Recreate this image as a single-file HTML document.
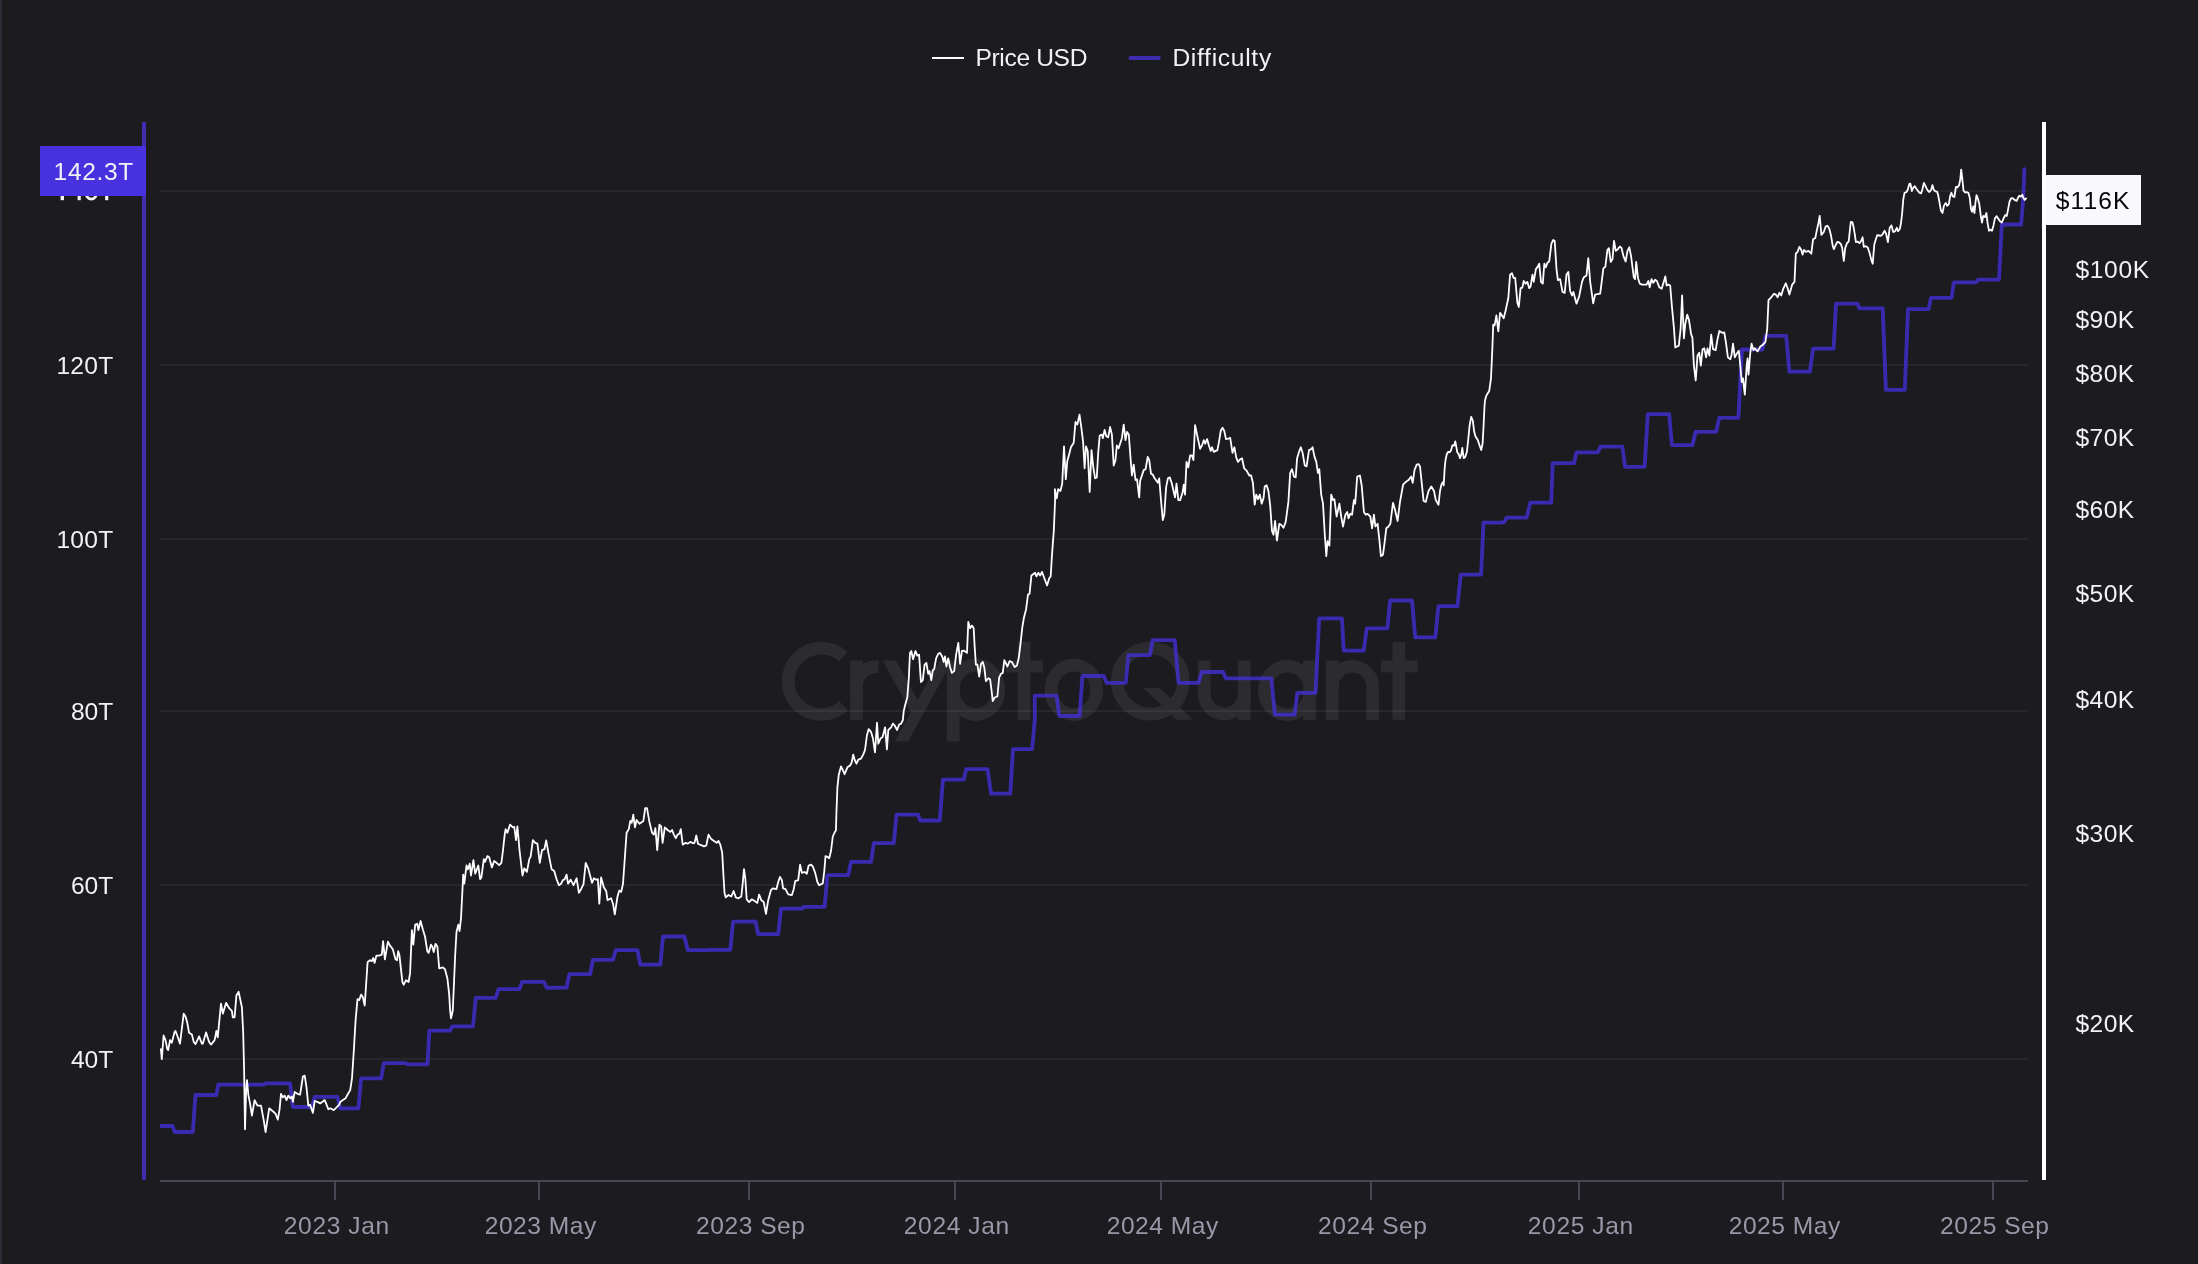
<!DOCTYPE html>
<html><head><meta charset="utf-8"><title>Price USD / Difficulty</title>
<style>
html,body{margin:0;padding:0;background:#1b1b20;}
body{width:2198px;height:1264px;position:relative;overflow:hidden;font-family:"Liberation Sans",sans-serif;}
text{font-family:"Liberation Sans",sans-serif;}
.yl{font-size:24.6px;fill:#f2f2f5;}
.xl{font-size:24.6px;fill:#9898a8;}
.lg{font-size:24.6px;fill:#f2f2f5;}
</style></head>
<body>
<svg width="2198" height="1264" viewBox="0 0 2198 1264" style="position:absolute;left:0;top:0;will-change:transform">
<defs><clipPath id="plot"><rect x="160" y="100" width="1880" height="1080"/></clipPath></defs>
<rect x="0" y="0" width="2" height="1264" fill="#2d2e38"/>
<rect x="160" y="190" width="1868" height="2" fill="#26272c"/>
<rect x="160" y="364" width="1868" height="2" fill="#26272c"/>
<rect x="160" y="538" width="1868" height="2" fill="#26272c"/>
<rect x="160" y="710" width="1868" height="2" fill="#26272c"/>
<rect x="160" y="884" width="1868" height="2" fill="#26272c"/>
<rect x="160" y="1058" width="1868" height="2" fill="#26272c"/>
<rect x="160" y="1180" width="1868" height="2" fill="#474753"/>
<rect x="334" y="1181" width="2" height="19" fill="#474753"/>
<text class="xl" x="283.85" y="1234" textLength="105.3" lengthAdjust="spacing">2023 Jan</text>
<rect x="538" y="1181" width="2" height="19" fill="#474753"/>
<text class="xl" x="484.7" y="1234" textLength="111.6" lengthAdjust="spacing">2023 May</text>
<rect x="748" y="1181" width="2" height="19" fill="#474753"/>
<text class="xl" x="696.1" y="1234" textLength="108.8" lengthAdjust="spacing">2023 Sep</text>
<rect x="954" y="1181" width="2" height="19" fill="#474753"/>
<text class="xl" x="903.85" y="1234" textLength="105.3" lengthAdjust="spacing">2024 Jan</text>
<rect x="1160" y="1181" width="2" height="19" fill="#474753"/>
<text class="xl" x="1106.7" y="1234" textLength="111.6" lengthAdjust="spacing">2024 May</text>
<rect x="1370" y="1181" width="2" height="19" fill="#474753"/>
<text class="xl" x="1318.1" y="1234" textLength="108.8" lengthAdjust="spacing">2024 Sep</text>
<rect x="1578" y="1181" width="2" height="19" fill="#474753"/>
<text class="xl" x="1527.85" y="1234" textLength="105.3" lengthAdjust="spacing">2025 Jan</text>
<rect x="1782" y="1181" width="2" height="19" fill="#474753"/>
<text class="xl" x="1728.7" y="1234" textLength="111.6" lengthAdjust="spacing">2025 May</text>
<rect x="1992" y="1181" width="2" height="19" fill="#474753"/>
<text class="xl" x="1940.1" y="1234" textLength="108.8" lengthAdjust="spacing">2025 Sep</text>
<g fill="#f2f2f5"><rect x="60.6" y="190" width="3.4" height="10.2"/><rect x="77.6" y="190" width="3.2" height="10.2"/><rect x="105.1" y="190" width="3.2" height="10.2"/></g><ellipse cx="91.3" cy="191.5" rx="5.9" ry="7.6" fill="none" stroke="#f2f2f5" stroke-width="2.6"/>
<text class="yl" x="56.4" y="374" textLength="56.8" lengthAdjust="spacing">120T</text>
<text class="yl" x="56.4" y="548" textLength="56.8" lengthAdjust="spacing">100T</text>
<text class="yl" x="71" y="720" textLength="42.2" lengthAdjust="spacing">80T</text>
<text class="yl" x="71" y="894" textLength="42.2" lengthAdjust="spacing">60T</text>
<text class="yl" x="71" y="1068" textLength="42.2" lengthAdjust="spacing">40T</text>
<text class="yl" x="2075.5" y="278.1" textLength="73.6" lengthAdjust="spacing">$100K</text>
<text class="yl" x="2075.5" y="328.3" textLength="58.7" lengthAdjust="spacing">$90K</text>
<text class="yl" x="2075.5" y="382.2" textLength="58.7" lengthAdjust="spacing">$80K</text>
<text class="yl" x="2075.5" y="446.1" textLength="58.7" lengthAdjust="spacing">$70K</text>
<text class="yl" x="2075.5" y="518.1" textLength="58.7" lengthAdjust="spacing">$60K</text>
<text class="yl" x="2075.5" y="602.4" textLength="58.7" lengthAdjust="spacing">$50K</text>
<text class="yl" x="2075.5" y="708.0" textLength="58.7" lengthAdjust="spacing">$40K</text>
<text class="yl" x="2075.5" y="841.9" textLength="58.7" lengthAdjust="spacing">$30K</text>
<text class="yl" x="2075.5" y="1032.3" textLength="58.7" lengthAdjust="spacing">$20K</text>
<g id="wm" opacity="0.075" fill="none" stroke="#fff" stroke-width="12.7"><path d="M843.5,656.7 A33.15,33.15 0 1 0 843.5,705.9"/><path d="M856.5,660.5 V719.8"/><path d="M856.5,688 A20.15,20.15 0 0 1 876.7,666.6 L878.5,666.6"/><polygon points="882.6,660.5 896.1,660.5 917.8,700 911.1,712.3" fill="#fff" stroke="none"/><polygon points="939.6,660.5 952.4,660.5 908.1,741.6 894.6,741.6" fill="#fff" stroke="none"/><path d="M953.2,660.5 V741.6"/><ellipse cx="975.9" cy="689.8" rx="22.75" ry="24.75"/><path d="M1024.1,641.8 V719.8"/><rect x="1006" y="660.5" width="36.9" height="11.9" fill="#fff" stroke="none"/><ellipse cx="1073.9" cy="689.8" rx="22.85" ry="24.75"/><circle cx="1150.3" cy="681.1" r="33.1"/><polygon points="1143.4,688.1 1159.6,688.1 1192.9,719.8 1176.6,719.8" fill="#fff" stroke="none"/><path d="M1204.3,660.5 V693.85 A20,20 0 0 0 1244.3,693.85"/><path d="M1244.3,660.5 V719.8"/><ellipse cx="1287.5" cy="690.4" rx="23.05" ry="24.15"/><path d="M1309.5,660.5 V719.8"/><path d="M1332.2,660.5 V719.8"/><path d="M1332.2,688 V686.4 A20.15,20.15 0 0 1 1372.5,686.4 V719.8"/><path d="M1398.8,642.1 V719.8"/><rect x="1380.8" y="660.5" width="36.8" height="11.8" fill="#fff" stroke="none"/></g>
<path d="M160,1126 L172.7,1126 L174.6,1132 L192.8,1132 L195.5,1095 L216.4,1095 L218.2,1084.7 L263.7,1084.7 L265.6,1083.4 L290.1,1083.4 L292.9,1107 L312,1107 L314.7,1096.9 L337.4,1096.9 L340.2,1108.3 L358.4,1108.3 L361.1,1078.3 L381.1,1078.3 L383.8,1063.2 L405.7,1063.2 L407.5,1064.3 L427.5,1064.3 L429.3,1030.6 L450.3,1030.6 L452.1,1026.4 L473,1026.4 L475.8,997.9 L495.8,997.9 L498.5,989.1 L519.4,989.1 L522.2,981.8 L544,981.8 L546.7,987.8 L566.6,987.5 L569.3,974.2 L590.2,974.2 L592.9,959.8 L613,959.8 L615.7,950.2 L637.5,950.2 L640.3,964.7 L660.3,964.7 L663,936.5 L684.5,936.5 L687.6,950.2 L708.5,950.2 L710.3,949.8 L730.3,949.8 L733.1,921.6 L748.5,921.6 L755.5,921.5 L758.2,934.2 L778.2,934.2 L781,908.7 L801.9,908.7 L803.7,906.9 L824.6,906.9 L827.4,875.1 L848.3,875.1 L851,861.9 L871,861.9 L873.8,843.2 L893.8,843.2 L896.5,814.6 L918,814.6 L920.2,820.5 L939.8,820.5 L942.9,779.7 L963.8,779.7 L966.2,769.1 L987.5,769.1 L991.1,793.7 L1010.3,793.7 L1013,749.1 L1032.1,749.1 L1034.8,720 L1034.7,695.6 L1056.5,695.6 L1059.3,716 L1079.6,716 L1082.4,676 L1103.8,676 L1106.6,682.9 L1125.7,682.9 L1128.4,655.1 L1149.9,655.1 L1152.6,640.1 L1174.8,640.1 L1178.5,682.9 L1198.5,682.9 L1201.7,672 L1223,672 L1225.8,678.3 L1271.3,678.3 L1274.9,714.7 L1294.6,714.7 L1297.3,692.9 L1315.5,692.9 L1319.2,618.3 L1341.9,618.3 L1343.7,650.7 L1363.7,650.7 L1366.8,628.3 L1387.4,628.3 L1390.1,600.5 L1412,600.5 L1415.2,637.4 L1435.3,637.4 L1438.4,606.1 L1457.5,606.1 L1460.7,574.6 L1481.1,574.6 L1483.5,522.7 L1503.9,522.7 L1506.6,517.7 L1526.6,517.7 L1530.3,502.7 L1551.2,502.7 L1552.7,463.2 L1574.1,463.2 L1576.4,452.3 L1597.8,452.3 L1600.5,446.6 L1622.3,446.6 L1625.1,466.9 L1644.6,466.9 L1647.8,414.1 L1669.2,414.1 L1671.9,445.2 L1692.4,445.2 L1695.6,431.9 L1716.1,431.9 L1719.3,417.8 L1738.4,417.8 L1741.9,349.5 L1762.4,349.5 L1765.6,335.8 L1786.2,335.8 L1789.3,371.7 L1809.9,371.7 L1813.1,348.7 L1833.6,348.7 L1836,303.6 L1857.4,303.6 L1859.4,308.4 L1882.7,308.4 L1885.9,389.9 L1904.8,389.9 L1908,309.2 L1928.6,309.2 L1930.9,297.8 L1951.5,297.8 L1953.9,282.3 L1976,282.3 L1978.1,279.6 L1999,279.6 L2001.8,224.5 L2021.1,224.5 L2023.2,199.3 L2024.4,169.1" fill="none" stroke="#4630e0" stroke-opacity="0.75" stroke-width="3.8" stroke-linejoin="round" stroke-linecap="round" clip-path="url(#plot)"/>
<path d="M160.9,1049.2 L161.8,1059.2 L163.6,1035.5 L165.5,1040.1 L167.3,1049.2 L168.2,1050.1 L170,1040.1 L171.8,1042.8 L174.6,1031.9 L175.5,1031 L178.2,1038.3 L180,1043.7 L183.7,1013.7 L185.5,1016.4 L187.3,1022.8 L189.1,1032.8 L191.9,1034.6 L193.7,1041.9 L195.5,1044.1 L199.1,1036.4 L201.9,1043.7 L202.8,1043.7 L206.1,1032.4 L209.1,1041.9 L211,1044.6 L214.6,1040.1 L216.4,1031 L217.7,1037.3 L221,1003.7 L222.8,1013.7 L226.1,1002.8 L229.2,1008.2 L231.9,1011 L232.8,1017.3 L234.6,1017.3 L236.4,995.5 L238.6,991.8 L241.9,1007.3 L243.2,1032.8 L244.1,1069.2 L245,1129.2 L246.1,1091 L247,1080.1 L248.3,1094.7 L250.1,1103.8 L251.9,1115.6 L254.6,1100.1 L257.4,1105.6 L261,1105.6 L263.7,1120.1 L265.6,1132 L269.2,1108.3 L273.7,1112 L275.6,1113.8 L277.8,1119.6 L279.6,1109.2 L281,1093.8 L282.8,1097.4 L284.7,1095.6 L286.5,1100.1 L288.3,1095.6 L290.1,1098.3 L291.9,1096.5 L292.9,1101.9 L294.7,1091.9 L297.4,1093.8 L300.1,1094.7 L302.9,1076.5 L304.7,1075.6 L306.5,1087.4 L308.3,1105.6 L310.1,1104.7 L312.9,1112.9 L314.7,1101 L317.4,1101.9 L320.2,1103.4 L324.7,1100.1 L328.3,1109.2 L330.2,1108.3 L333.8,1110.1 L339.3,1104.7 L340.2,1101.9 L342.9,1100.1 L345.6,1098.3 L347.5,1094.7 L350.2,1090.1 L352,1078.3 L353.8,1051 L355.6,1020.1 L357.5,999.1 L359.3,1000 L361.1,994.6 L362.9,997.3 L364.7,1005.5 L367.5,963.6 L367.7,962 L370,960.2 L371.8,961.1 L373.3,958 L374.6,962.9 L376.4,955.6 L379.1,955.6 L381.8,954.7 L383.1,941.1 L384.9,959.3 L387.9,941.6 L390,945.6 L392.8,949.2 L395.5,959.3 L397,960.2 L398.2,951.1 L399.5,955.6 L401,969.3 L402.4,982 L403.7,984.7 L406.1,980.2 L408.6,982 L410.1,972.9 L411.9,930.1 L413.3,944.7 L415.2,924.7 L417.3,923.8 L418.4,930.1 L420.6,921 L422.8,929.2 L425,936.5 L427.3,951.1 L428.6,952.9 L431,944.7 L432.3,946.5 L433.7,952 L435.5,943.8 L437.4,946.5 L439.2,968.4 L442.8,967.4 L445,969.3 L447.4,978.4 L449.2,994.7 L450.1,1010 L451,1018.4 L451.9,1014.8 L452.8,1010 L454.1,980.2 L455.2,954.7 L456.5,932 L458.3,924.7 L459.6,931 L461,918.3 L462.5,889.2 L463.2,874.6 L464.3,883.7 L466.5,865.5 L467.9,869.2 L469.7,863.7 L471,875.5 L473.4,860.1 L475.2,873.7 L478.3,865.5 L480.1,879.2 L481.4,877.4 L483.8,859.2 L485,861.9 L487.4,856.1 L489.2,857.3 L491.9,867.4 L494.1,861 L496.5,862.8 L499.2,865.2 L501.4,862.8 L502.9,851 L504.7,834.6 L505.6,829.1 L507.4,832.8 L510.1,824.6 L512.9,827.3 L514.3,827 L516,840.1 L517.4,826.4 L519.6,851 L522.5,875.5 L524.3,868.3 L526.9,871.9 L529.3,859.2 L530.7,856.4 L532.9,840.1 L535.3,842.8 L537.4,843.7 L539.8,862.8 L542,850.1 L544.4,849.2 L546.2,840.4 L548.4,852.8 L551.6,869.2 L554.2,871 L556.6,879.2 L558.9,885.2 L561.1,883.7 L562.9,880.1 L564.7,879.2 L566.6,874.6 L568,883.7 L570.6,879.7 L573.5,885.2 L576.6,878.3 L578.9,892.8 L581.1,889.2 L583.5,884.1 L585.7,862.8 L588.4,869.2 L592,882.8 L593.9,878.3 L596,879.7 L597.9,879.2 L599.3,903.7 L601.1,877.4 L603.9,887.4 L606.2,891 L607.5,900.1 L611.1,898.3 L613,903.7 L614.8,914.3 L617.5,896.5 L619.3,890.6 L621.2,891.9 L623,883.7 L624.8,858.3 L626.6,832.8 L628.8,829.1 L630.3,820.9 L631.7,822.8 L633.3,814.6 L635,827.3 L636.6,820 L639.4,823.7 L643.4,820.9 L645.2,808.2 L647,808.2 L649.4,821.9 L652.1,832.8 L653.9,834.6 L655.4,828.2 L657.2,850.1 L659.4,824.6 L661.2,826.4 L662.6,842.8 L664.8,827.3 L667.6,830 L670.3,831.9 L672.1,830 L673.9,834.6 L675.8,838.2 L677.6,834.6 L679.4,833.7 L680.8,829.1 L682.7,844.6 L685.8,842.8 L687.6,843.7 L690.3,841.9 L693,843.3 L694.5,842.8 L696.3,835.5 L698,843.7 L701.2,845.2 L704,846.4 L706.3,845.5 L708.5,834.6 L711.2,839.1 L714,841 L716.7,842.8 L718.5,841 L720.3,844.6 L722.2,852.8 L723.4,874.6 L724.5,892.8 L725.8,897.4 L728.5,895 L731.3,896.5 L733.6,891 L735.8,897.4 L738.5,898.3 L741.3,896.5 L742.7,883.7 L744,869.2 L745.3,878.3 L746.7,899.2 L748.5,901.6 L749.1,902 L751.8,899.3 L754.6,901.1 L757.3,902.9 L759.1,894.7 L761.3,900.2 L763.7,902 L766,913.8 L768.2,900.2 L770.9,890.2 L772.8,888.3 L776.4,889.2 L778.2,882 L780,876.9 L781.9,880.1 L783.1,888.3 L785.5,889.2 L788.2,894.3 L791.9,895.1 L793.7,889.2 L795.2,881.1 L798.2,880.1 L800.1,864.7 L801.9,872.9 L804.6,872 L806.8,873.8 L808.6,865.6 L811,864.7 L812.8,866.5 L815.2,872.9 L817.4,882 L819.2,885.2 L822.8,883.4 L824.3,871 L825.5,856.1 L827.4,856.9 L829.2,858.3 L831,851 L832.8,836.5 L834.6,832.5 L835.9,830.6 L836.5,811 L837.4,787.3 L838.8,774.6 L841,766.4 L842.8,770 L844.6,774.2 L847.4,767.3 L850.1,765.5 L851.6,762.8 L853.2,754.6 L854.7,760 L856.5,763.7 L858.3,759.7 L861,758.6 L863.2,754.6 L865,750 L866.9,735.5 L868.7,729.1 L871,731.8 L872.9,738.2 L875,752.4 L877,722.7 L878.3,743.7 L880.7,738.2 L882.5,737.3 L885.1,727.3 L886.9,749.5 L888.3,730 L891.1,727.3 L892.9,723.6 L894.7,725.5 L897.1,730 L899.2,724.5 L901.1,723.6 L902.9,720 L903.7,711.1 L905.5,703.8 L907.3,697.5 L908.8,678.3 L910,652.9 L911.3,651 L913.1,659.2 L915.5,651 L917.3,655.6 L919.1,654.7 L920.9,682 L922.8,680.2 L924.6,664.7 L926.4,662.9 L928.2,673.8 L929.5,671.1 L931.3,680.2 L932.8,670.2 L934.2,669.2 L936.1,658.3 L938.2,653.8 L940.1,652.9 L942.2,656.5 L943.7,662 L945,656.5 L946.4,666.5 L948.2,658.3 L950.1,667.4 L951.9,672.9 L954.2,671.1 L956.1,654.7 L958.3,642.9 L960.1,663.8 L961.9,651 L964.1,650.7 L967,652.9 L968.3,621.9 L970.1,628.3 L971.9,625.6 L973.7,628.3 L974.6,645.6 L975.9,664.7 L977.4,664.7 L979.2,676.5 L981,663.8 L982.8,662 L984.3,667.4 L985.9,681.1 L988.3,678.3 L990.1,679.3 L991.4,689.3 L992.8,701.1 L994.6,697.5 L997.4,696.5 L999.2,677.4 L1001,673.8 L1002.8,672.9 L1004.3,660.1 L1006.5,664.7 L1007.4,666.5 L1009.6,661.1 L1011.9,662 L1014.7,667.1 L1016.9,665.6 L1018.7,658.3 L1020.5,643.8 L1022.3,627.4 L1023.8,618.3 L1026.1,609.2 L1028,594.6 L1029.6,593.7 L1031.4,575.5 L1033.8,573.7 L1035.1,572.8 L1036.5,576.4 L1038.3,572.8 L1040.1,575.5 L1042,571.9 L1044.7,579.2 L1047.1,585.5 L1049.2,578.3 L1050.7,576.4 L1052,554.6 L1053.8,530.9 L1055.1,500 L1054.9,489.2 L1056.7,498.3 L1058.2,489.2 L1060.4,491 L1062.2,483.7 L1064,446.4 L1065.8,479.2 L1067.3,461 L1069.1,454.6 L1070.9,447.3 L1073.7,442.8 L1075.5,421.9 L1077.3,424.6 L1079.5,414.6 L1081.3,427.3 L1083.1,441.9 L1084.6,468.3 L1086,446.4 L1087.7,451 L1089.7,491.9 L1091.5,450.1 L1093.3,467.4 L1095.1,478.3 L1096.8,477.4 L1098.2,452.8 L1099.7,435.5 L1101.9,434.6 L1102.8,438.2 L1104.6,430 L1106.4,436.4 L1108.2,437.3 L1110.1,427 L1111.9,434.6 L1113.7,465.5 L1115.5,460.1 L1116.8,445.5 L1118.6,448.2 L1121,441 L1121.9,438.2 L1123.7,424.6 L1125.5,440.1 L1127,431.9 L1128.8,434.6 L1130.4,456.4 L1131.9,475.5 L1133.7,464.6 L1135.5,480.1 L1137,479.2 L1139.2,497.4 L1140.1,481 L1143.7,470.1 L1145.6,469.2 L1147.7,456.8 L1149.2,460.1 L1151,473.7 L1152.8,474.6 L1154.6,478.3 L1157.9,482.8 L1159.2,478.3 L1161,500.1 L1162.8,520.1 L1164.3,514.7 L1166.1,487.4 L1167.9,478.3 L1169.8,477.4 L1171.9,483.7 L1175,497.4 L1176.5,483.7 L1178.3,500.1 L1180.1,500.1 L1182.5,492.8 L1183.8,484.6 L1185,494.6 L1186.5,461.9 L1188.3,467.4 L1190.1,455.5 L1192,455.5 L1193.4,460.1 L1195.1,425.1 L1197.4,436.4 L1200.1,448.8 L1202,445.5 L1203.8,440.1 L1205.2,443.7 L1207.1,439.1 L1208.9,445.5 L1210.7,451 L1212,447.3 L1213.8,451.9 L1217.4,450.1 L1219.3,440.1 L1220.7,431 L1222.5,427.7 L1224.3,431 L1226,439.1 L1228.4,438.6 L1230.2,437.9 L1232.5,452.8 L1234.4,447.3 L1236.2,457.3 L1238,461.9 L1240.2,459.2 L1242,458.3 L1244.2,468.3 L1246.6,470.6 L1249.3,475.5 L1251.1,475.5 L1252.9,482.8 L1254.7,504.7 L1256.2,494.6 L1258,499.2 L1259.8,494.6 L1261.7,503.7 L1263.5,498.3 L1264.7,486.5 L1266.6,485.2 L1268.4,491 L1270.2,505.6 L1272,531 L1273.5,534.7 L1275.1,521 L1276.9,540.5 L1279.3,523.8 L1281.1,524.7 L1283.5,527.8 L1285.7,521.9 L1288.4,501.9 L1290.2,472.8 L1292,469.2 L1293.9,476.5 L1295.7,477.4 L1297.1,458.3 L1299,451.9 L1300.8,447.3 L1302.6,452.8 L1304.8,465.5 L1306.6,466.4 L1309,450.1 L1311.2,449.2 L1312.6,447.3 L1314.4,456.4 L1316.3,461.9 L1317.9,472.8 L1319.3,469.2 L1321.2,494.6 L1323,503.7 L1324.8,534.7 L1326.3,556.2 L1327.5,541.1 L1329.4,545.6 L1331.2,494.6 L1333,500.1 L1334.4,499.2 L1336.6,516.5 L1339.4,503.7 L1341.2,516.5 L1343,526.5 L1345.4,514.7 L1347.2,511.9 L1348.5,518.3 L1350.3,513.8 L1352.1,514.7 L1353.9,500.1 L1355.2,503.7 L1357.2,476.5 L1359.9,475.5 L1361.7,485.6 L1363.9,511.9 L1365.8,514.7 L1367.6,513.8 L1370.3,516.5 L1372.1,528.3 L1373.9,514.7 L1375.4,526.5 L1377.6,523.8 L1379.4,540.1 L1380.9,556.2 L1383,554.7 L1384.9,540.1 L1386.3,528.3 L1388.5,526.5 L1390.3,523.8 L1393,502.8 L1394.9,509.2 L1397.6,521 L1400,501.9 L1403.1,484.6 L1405.8,481.9 L1408.5,480.1 L1411.2,476.5 L1412.7,482.8 L1414.5,470.1 L1416.7,464.6 L1418.5,464.1 L1420,466.4 L1421.8,483.7 L1423.6,501 L1425.8,501.9 L1428.5,491 L1431.3,486.5 L1434,491 L1435.8,500.1 L1438.5,504.7 L1440,491 L1441.4,484.6 L1442.8,482.3 L1443.7,485.5 L1444.6,469.2 L1445.5,460.1 L1446.9,453.7 L1448.2,451.9 L1449.6,452.3 L1451,450.5 L1452.3,445.5 L1454.1,445.5 L1455.3,441.4 L1456.4,447.3 L1457.3,452.3 L1458.7,454.1 L1460.1,458.2 L1461.4,454.1 L1462.3,447.8 L1463.7,458.2 L1465.1,457.3 L1466.9,451.9 L1468.2,440 L1469.6,425.5 L1471.2,416.8 L1472.8,420.5 L1474.2,431.8 L1475.5,436.4 L1477.8,440 L1479.6,445.5 L1481.2,450 L1482.6,443.7 L1483.5,427.3 L1484.6,404.5 L1485.1,400 L1486.4,395.6 L1489.2,391.1 L1491,378.3 L1492.4,347.4 L1493.2,324.6 L1494.6,325.6 L1496.4,315.5 L1498.3,331.4 L1500.1,312.8 L1503.7,318.3 L1505.5,311 L1508.3,298.3 L1510.1,274.6 L1511.9,273.1 L1513.7,278.2 L1515.2,277.9 L1517.4,302.8 L1518.8,307 L1520.6,288.2 L1522.3,287.7 L1523.7,281 L1525.6,283.7 L1527.4,281.9 L1529.2,288.2 L1530.6,286.4 L1532.5,274.6 L1533.7,281.9 L1535.9,269.1 L1537.9,266.4 L1539.2,263.7 L1541,281.9 L1542.8,283.7 L1544.3,263.7 L1545.9,267.3 L1547.4,262.8 L1549.2,261.5 L1551.4,243.7 L1553.2,240 L1554.7,240.9 L1556.5,269.1 L1557.9,280.1 L1560.1,279.1 L1562.5,291.9 L1564.7,292.8 L1566.5,274.6 L1568.3,271.9 L1570.1,291 L1572,295.5 L1573.4,291.9 L1576.5,303.7 L1579.2,296.4 L1582,281.9 L1583.8,277.3 L1586.5,275.5 L1588.3,258.2 L1590.2,281.9 L1593.2,303.3 L1595.1,294.6 L1597.4,294.2 L1600.2,293.7 L1603.4,268.2 L1605.3,267 L1607.4,250 L1608.9,248.2 L1610.7,261.9 L1612.5,259.1 L1614,240.9 L1615.8,250.9 L1618,249.1 L1619.8,246.4 L1621.6,248.2 L1623.5,256.4 L1625.6,261.5 L1627.5,250.9 L1629.3,247.3 L1631.1,256.4 L1633.8,277.3 L1635.1,279.1 L1636.2,261.9 L1638,278.2 L1639.8,283.7 L1642,284.6 L1646.6,284.6 L1648.4,281 L1649.7,287.3 L1651.5,279.1 L1653.3,282.8 L1655.1,279.7 L1656.9,281 L1659.3,287.3 L1661.7,288.8 L1663.5,282.8 L1665.3,276.4 L1666.6,285.5 L1668.4,284.6 L1670.2,285.5 L1672,307.4 L1673.9,327.4 L1675.3,347.4 L1677,346.5 L1678.8,345.6 L1680.6,329.2 L1682.1,295.5 L1683.9,338.3 L1685.3,323.7 L1687.2,314.6 L1689,320.1 L1691.2,334.6 L1692.4,337.4 L1693.9,365.6 L1695.7,380.5 L1697.5,355.6 L1699.3,352.8 L1700.8,365.6 L1702.6,349.2 L1704.3,348.3 L1706.1,357.4 L1707.5,348.3 L1709.4,355.6 L1711.2,334.6 L1713,349.2 L1715.7,350.1 L1717.5,339.2 L1719.4,331 L1722.1,332.8 L1724.3,332.5 L1726.1,343.7 L1727.9,357.4 L1730.3,359.2 L1731.6,354.7 L1733,343.7 L1734.8,357.4 L1736.7,353.8 L1738.8,350.7 L1740.3,365.6 L1741.7,382 L1743,378.3 L1744.8,394.7 L1746.7,365.6 L1747.6,358.3 L1748.5,374.7 L1750.3,352.8 L1751.6,343.7 L1753.4,350.1 L1754.8,348.3 L1757.6,351.4 L1760.3,346.5 L1763,344.7 L1765.4,341.9 L1767.2,329.2 L1768.5,300.1 L1771.2,297.3 L1774,293.7 L1775.8,294.6 L1777.6,297.3 L1779.4,292.8 L1781.2,295.5 L1783.1,289.2 L1785.8,283.3 L1787.6,288.2 L1789.4,294.6 L1792.2,284.6 L1794.5,281.9 L1795.8,253.7 L1797.6,251.8 L1799.4,246.9 L1801.3,250 L1802.5,254.6 L1804,250 L1805.8,251.8 L1808.5,250.9 L1811.3,253.7 L1813.1,239.1 L1815.3,238.2 L1816.7,230.9 L1818.5,222.7 L1819.7,215.9 L1821.4,234.9 L1823.8,232 L1825.6,226.6 L1827.4,225.7 L1829.2,228.4 L1830.9,234.9 L1832.7,245.6 L1833.9,249.2 L1835.7,245 L1837.5,241.8 L1839.2,242.3 L1841,244.4 L1842.2,248 L1843.8,261 L1845.2,248 L1847,243.2 L1848.7,241.5 L1849.9,230.2 L1850.8,221.9 L1852.3,222.1 L1853.5,226.6 L1854.7,233.7 L1855.9,242.1 L1857.6,241.5 L1859.4,243.2 L1861.2,240.9 L1862.6,237.3 L1863.8,246.8 L1865.9,246.2 L1867.7,247.4 L1869.5,252.7 L1871.3,259.9 L1872.7,263.7 L1874.3,244.4 L1875.7,239.7 L1877.2,235.2 L1879,235.5 L1880.8,235.9 L1882.6,234.3 L1884.6,230.8 L1886.1,233.7 L1887.9,242.1 L1889.7,227.8 L1891.5,225.4 L1893.2,232 L1895,231.4 L1896.8,227.8 L1898,231.1 L1899.8,229 L1901,223.1 L1902.1,213.6 L1903.3,199.3 L1904.5,192.8 L1906.3,192.2 L1907.7,189.8 L1909.3,183.9 L1910.4,183.7 L1911.9,191 L1913.4,187.5 L1914.8,186.3 L1916.4,188.7 L1917.9,190.8 L1919.6,192.8 L1921.1,193.4 L1922.3,189.8 L1923.9,183 L1925.3,185.7 L1926.7,188.7 L1928.2,191 L1929.4,192 L1931.2,189.8 L1932.4,185.1 L1933.8,189.8 L1935.4,191.3 L1937.1,191.6 L1938.3,195.8 L1939.8,204.1 L1940.9,210.6 L1942.5,213 L1943.9,205.9 L1945.7,202.9 L1947.2,205.9 L1948.8,204.1 L1950.2,195.8 L1951.4,192.8 L1952.8,196.4 L1954.4,197 L1955.9,186.9 L1957.3,187.5 L1959.1,185.1 L1960.3,179.2 L1961.2,169.7 L1962.3,179.2 L1963.5,190.4 L1965,192.5 L1966.8,192.2 L1968.4,192.8 L1969.8,198.1 L1971,209.4 L1972.2,211.8 L1973.3,206.5 L1974.5,213 L1975.4,202.9 L1976.5,195.2 L1977.7,198.1 L1979.3,204.1 L1980.8,215.9 L1982,222.5 L1983.2,215.9 L1984.8,217.1 L1986.4,213 L1987.6,223.1 L1989,230.8 L1990.5,229.6 L1992,230.8 L1993.5,225.4 L1994.9,218.3 L1996.7,216.2 L1998.5,218.9 L2000,221.3 L2001.8,222.5 L2003.6,218.3 L2005.4,215 L2006.8,215.9 L2008.1,209.4 L2009.5,201.7 L2011,198.4 L2012.7,198.1 L2014.6,199.9 L2016.7,200.8 L2018.1,197.6 L2019.3,195.8 L2020.8,196.7 L2022.3,194.8 L2023.5,198.1 L2024.7,199.9 L2026.1,198.4" fill="none" stroke="#ffffff" stroke-width="1.8" stroke-linejoin="round" stroke-linecap="round"/>
<rect x="142" y="122" width="4" height="1058" fill="#3f2db0"/>
<rect x="2042" y="122" width="4" height="1058" fill="#ffffff"/>
<rect x="40" y="146" width="106" height="50" fill="#4832e0"/>
<text class="yl" x="53.6" y="180.2" textLength="79.6" lengthAdjust="spacing">142.3T</text>
<rect x="2046" y="175" width="95" height="50" fill="#f8f8fd"/>
<text class="yl" x="2055.7" y="209" textLength="73.7" lengthAdjust="spacing" style="fill:#050508">$116K</text>
<rect x="932" y="57" width="32" height="2" fill="#fff"/>
<text class="lg" x="975.5" y="66" textLength="111.9" lengthAdjust="spacing">Price USD</text>
<line x1="1130.5" y1="58" x2="1158.8" y2="58" stroke="#3f2db0" stroke-width="4" stroke-linecap="round"/>
<text class="lg" x="1172.4" y="66" textLength="98.8" lengthAdjust="spacing">Difficulty</text>
</svg>
</body></html>
